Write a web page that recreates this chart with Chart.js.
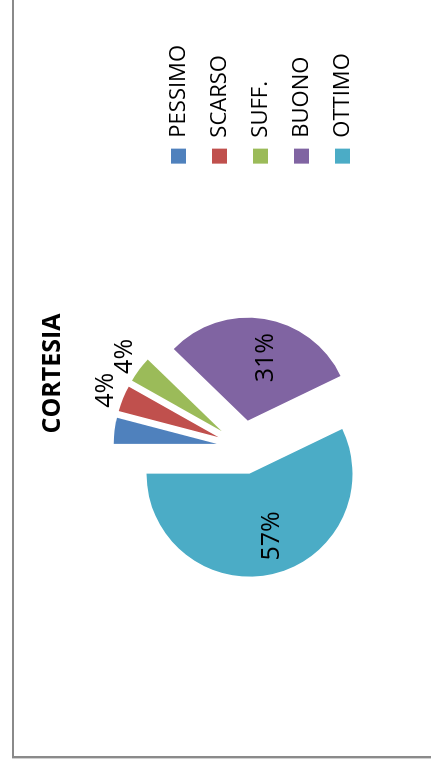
<!DOCTYPE html>
<html lang="it">
<head>
    <meta charset="utf-8">
    <title>CORTESIA</title>
    <script src="https://cdn.jsdelivr.net/npm/chart.js"></script>
    <style>
        html, body {
            margin: 0;
            padding: 0;
            background: #ffffff;
            overflow: hidden;
        }
        /* the whole sheet is turned a quarter to the left, like the scanned page */
        #stage {
            position: absolute;
            left: 0;
            top: 0;
            width: 769px;
            height: 431px;
            overflow: hidden;
            transform-origin: 0 0;
            transform: translate(0, 769px) rotate(-90deg);
        }
        #frame {
            position: absolute;
            left: 11px;
            top: 12px;
            border: 2px solid #8a8a8a;
            box-shadow: -1px 0 0 #d0d0d0;
            background: #ffffff;
        }
        #pieChart {
            display: block;
        }
    </style>
</head>
<body>
    <div id="stage">
        <div id="frame">
            <canvas id="pieChart" width="772" height="430"></canvas>
        </div>
    </div>

    <script>
        const categories = ['PESSIMO', 'SCARSO', 'SUFF.', 'BUONO', 'OTTIMO'];
        const values = [2, 2, 2, 15, 28];
        const colors = ['#4F81BD', '#C0504D', '#9BBB59', '#8064A2', '#4BACC6'];
        const showPct = [false, true, true, true, true];

        const EXPLODE = 27;   // distanza delle fette dal centro
        const RADIUS = 103;

        Chart.defaults.font.family = '"Open Sans", "DejaVu Sans", sans-serif';
        Chart.defaults.color = '#000000';

        // fette "esplose" come in Excel: solo traslazione, raggio invariato
        const baseArcDraw = Chart.ArcElement.prototype.draw;
        Chart.ArcElement.prototype.draw = function (ctx) {
            const mid = (this.startAngle + this.endAngle) / 2;
            ctx.save();
            ctx.translate(Math.cos(mid) * EXPLODE, Math.sin(mid) * EXPLODE);
            baseArcDraw.call(this, ctx);
            ctx.restore();
        };

        // etichette percentuali (fuori per le fette piccole, dentro per le altre)
        const pctLabels = {
            id: 'pctLabels',
            afterDatasetsDraw(chart) {
                const meta = chart.getDatasetMeta(0);
                const total = values.reduce((a, b) => a + b, 0);
                const ctx = chart.ctx;
                ctx.save();
                ctx.font = '25px "Open Sans", "DejaVu Sans", sans-serif';
                ctx.fillStyle = '#000000';
                ctx.textAlign = 'center';
                ctx.textBaseline = 'middle';
                meta.data.forEach((arc, i) => {
                    if (!showPct[i]) return;
                    const share = values[i] / total;
                    const outside = share < 0.1;
                    const mid = (arc.startAngle + arc.endAngle) / 2;
                    const dist = EXPLODE + (outside ? arc.outerRadius + 22 : arc.outerRadius * 0.62);
                    const dy = outside ? 3 : 8;
                    ctx.fillText(Math.round(share * 100) + '%',
                        arc.x + Math.cos(mid) * dist,
                        arc.y + Math.sin(mid) * dist + dy);
                });
                ctx.restore();
            }
        };

        const ctx = document.getElementById('pieChart').getContext('2d');
        const chart = new Chart(ctx, {
            type: 'pie',
            data: {
                labels: categories,
                datasets: [{
                    data: values,
                    backgroundColor: colors,
                    borderWidth: 0,
                    radius: RADIUS
                }]
            },
            options: {
                responsive: false,
                animation: false,
                layout: {
                    padding: { left: 44, right: 51, top: 24, bottom: 35 }
                },
                plugins: {
                    title: {
                        display: true,
                        text: 'CORTESIA',
                        color: '#000000',
                        font: { size: 25, weight: 'bold' },
                        padding: { top: 0, bottom: 10 }
                    },
                    legend: {
                        position: 'right',
                        fullSize: false,
                        title: { display: true, text: '', padding: 5, font: { size: 20 } },
                        labels: {
                            boxWidth: 15,
                            boxHeight: 15,
                            padding: 19,
                            color: '#000000',
                            font: { size: 22 }
                        }
                    },
                    tooltip: { enabled: false }
                }
            },
            plugins: [pctLabels]
        });
    </script>
</body>
</html>
